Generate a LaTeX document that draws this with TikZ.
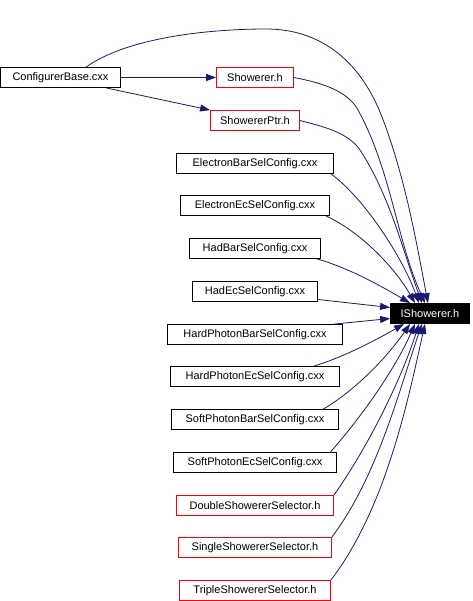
\documentclass[tikz,border=0pt]{standalone}
\usepackage{fontspec}
\setmainfont{Liberation Sans}
\usepackage{tikz}
\usetikzlibrary{arrows.meta}
\definecolor{DoxBlue}{RGB}{25,25,112}
\definecolor{DoxRed}{RGB}{255,0,0}
\tikzset{
  cls/.style={draw=black,fill=white,line width=0.8pt,minimum height=20pt,inner sep=0pt,
    font=\fontsize{11}{13}\selectfont},
  hdr/.style={cls,draw=DoxRed},
  cur/.style={cls,fill=black,text=white},
  dep/.style={draw=DoxBlue,line width=0.8pt,-{Triangle[length=10pt,width=7pt]}},
}

\begin{document}
\begin{tikzpicture}[x=1pt,y=-1pt]
\useasboundingbox (0,0) rectangle (472,601);
\node[cls,minimum width=120pt] (cfg) at (60.5,77.5) {ConfigurerBase.cxx};
\node[hdr,minimum width=77pt] (shw) at (255,77.5) {Showerer.h};
\node[hdr,minimum width=89pt] (ptr) at (255,120.5) {ShowererPtr.h};
\node[cls,minimum width=157pt] (ebar) at (255,163.5) {ElectronBarSelConfig.cxx};
\node[cls,minimum width=149pt] (eec) at (255,205.5) {ElectronEcSelConfig.cxx};
\node[cls,minimum width=131pt] (hbar) at (255,248.5) {HadBarSelConfig.cxx};
\node[cls,minimum width=125pt] (hec) at (255,291.5) {HadEcSelConfig.cxx};
\node[cur,minimum width=79pt] (ishow) at (430,313.5) {IShowerer.h};
\node[cls,minimum width=175pt] (hpbar) at (255,334.5) {HardPhotonBarSelConfig.cxx};
\node[cls,minimum width=169pt] (hpec) at (255,376.5) {HardPhotonEcSelConfig.cxx};
\node[cls,minimum width=167pt] (spbar) at (255,419.5) {SoftPhotonBarSelConfig.cxx};
\node[cls,minimum width=163pt] (spec) at (255,462.5) {SoftPhotonEcSelConfig.cxx};
\node[hdr,minimum width=157pt] (dbl) at (255,505.5) {DoubleShowererSelector.h};
\node[hdr,minimum width=153pt] (sgl) at (255,547.5) {SingleShowererSelector.h};
\node[hdr,minimum width=151pt] (tpl) at (255,590.5) {TripleShowererSelector.h};
% ConfigurerBase.cxx
\draw[dep] ([xshift=25.5pt]cfg.north) .. controls (130,36) and (215,29) .. (266,29)
  .. controls (320,29) and (360,60) .. (382,117)
  .. controls (405,177) and (416,240) .. ([xshift=-2pt]ishow.north);
\draw[dep] (cfg.east) -- (shw.west);
\draw[dep] ([xshift=45.5pt]cfg.south) -- (ptr.north west);
% headers
\draw[dep] (shw.east) .. controls (317,82) and (346.5,89) .. (358,110)
  .. controls (391,170) and (397,241) .. ([xshift=-5pt]ishow.north);
\draw[dep] (ptr.east) .. controls (321,126) and (348,132) .. (360,150)
  .. controls (390,196) and (403,251) .. ([xshift=-8pt]ishow.north);
% selector configs
\draw[dep] ([xshift=-3pt]ebar.south east) .. controls (363,197) and (402,256) .. ([xshift=-11pt]ishow.north);
\draw[dep] ([xshift=-4pt]eec.south east) .. controls (361,232) and (395,268) .. ([xshift=-15pt]ishow.north);
\draw[dep] ([xshift=-4pt]hbar.south east) .. controls (349,268) and (381,286) .. ([xshift=-20pt]ishow.north);
\draw[dep] ([yshift=-8pt]hec.east) -- ([yshift=6pt]ishow.west);
\draw[dep] ([xshift=-9pt]hpbar.north east) -- ([yshift=-5pt]ishow.west);
\draw[dep] ([xshift=-26pt]hpec.north east) .. controls (344,357) and (376,340) .. ([xshift=-26pt]ishow.south);
\draw[dep] ([xshift=-15.5pt]spbar.north east) .. controls (357,389) and (388,356) .. ([xshift=-20pt]ishow.south);
\draw[dep] ([xshift=-6.5pt]spec.north east) .. controls (363,415) and (395,369) .. ([xshift=-15pt]ishow.south);
% selectors
\draw[dep] (dbl.north east) .. controls (368,447) and (401,380) .. ([xshift=-11pt]ishow.south);
\draw[dep] (sgl.north east) .. controls (377,477) and (398,394) .. ([xshift=-8pt]ishow.south);
\draw[dep] (tpl.north east) .. controls (386,508) and (408,400) .. ([xshift=-5pt]ishow.south);
\end{tikzpicture}
\end{document}
